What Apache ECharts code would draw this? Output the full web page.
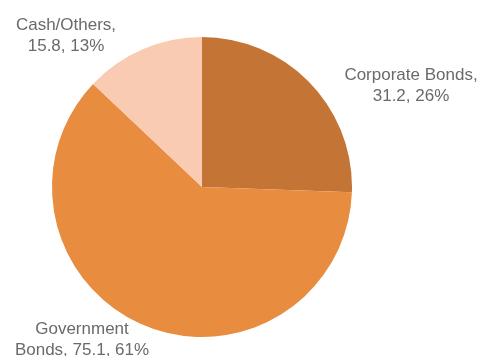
<!DOCTYPE html>
<html>
<head>
<meta charset="utf-8">
<style>
  html, body { margin: 0; padding: 0; background: #fff; }
  #chart { width: 479px; height: 356px; }
</style>
<script src="https://cdn.jsdelivr.net/npm/echarts@6/dist/echarts.min.js"></script>
</head>
<body>
<div id="chart"></div>
<script>
// Portfolio allocation by asset type
const categories = ['Corporate Bonds', 'Government Bonds', 'Cash/Others'];
const values = [31.2, 75.1, 15.8];
const percents = [26, 61, 13];
const labelTexts = [
  'Corporate Bonds,\n31.2, 26%',
  'Government\nBonds, 75.1, 61%',
  'Cash/Others,\n15.8, 13%'
];
const colors = ['#C47535', '#E88C40', '#F8CBB2'];

// Label anchor points (centre of each text block)
const labelAnchors = [[411, 86], [82, 340], [66, 36]];

const chart = echarts.init(document.getElementById('chart'), null, { renderer: 'canvas' });

chart.setOption({
  animation: false,
  backgroundColor: '#ffffff',
  series: [{
    type: 'pie',
    center: [202, 187],
    radius: [0, 150],
    startAngle: 90,
    clockwise: true,
    avoidLabelOverlap: false,
    itemStyle: { borderWidth: 0 },
    label: {
      show: true,
      position: 'outside',
      color: '#6a6a6a',
      fontFamily: 'Liberation Sans',
      fontSize: 17,
      lineHeight: 21,
      align: 'center',
      formatter: p => labelTexts[p.dataIndex]
    },
    labelLine: { show: false },
    labelLayout: params => ({
      x: labelAnchors[params.dataIndex][0],
      y: labelAnchors[params.dataIndex][1],
      align: 'center',
      verticalAlign: 'middle'
    }),
    data: categories.map((name, i) => ({
      name: name,
      value: values[i],
      itemStyle: { color: colors[i] }
    }))
  }]
});
</script>
</body>
</html>
